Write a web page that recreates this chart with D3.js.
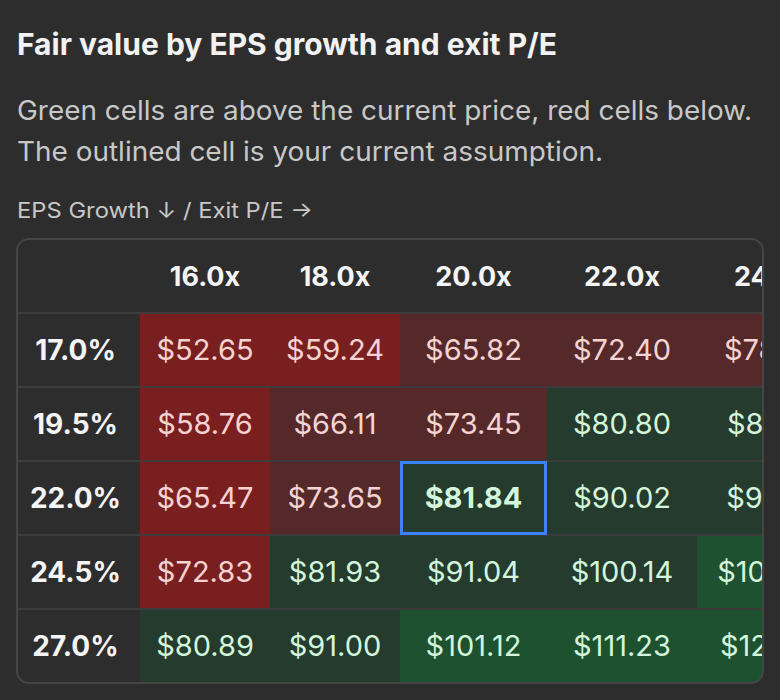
<!DOCTYPE html>
<meta charset="utf-8">
<script src="https://d3js.org/d3.v7.js"></script>
<style>
  body { margin: 0; background: #2d2d2d; }
  text { font-family: Inter, "Noto Sans", sans-serif; }
</style>
<svg id="chart" width="780" height="700"></svg>
<script>

// Data
const peLabels = ["16.0x", "18.0x", "20.0x", "22.0x", "24.0x"];
const growthLabels = ["17.0%", "19.5%", "22.0%", "24.5%", "27.0%"];
const values = [
  [52.65, 59.24, 65.82, 72.40, 78.98],
  [58.76, 66.11, 73.45, 80.80, 88.14],
  [65.47, 73.65, 81.84, 90.02, 98.21],
  [72.83, 81.93, 91.04, 100.14, 109.25],
  [80.89, 91.00, 101.12, 111.23, 121.34]
];
// tone: -2 strong red, -1 soft red, 1 soft green, 2 strong green
const tones = [
  [-2, -2, -1, -1, -1],
  [-2, -1, -1, 1, 1],
  [-2, -1, 1, 1, 1],
  [-2, 1, 1, 1, 2],
  [1, 1, 2, 2, 2]
];
const currentCell = [2, 2];

const svg = d3.select("#chart");

svg.append("text").attr("x", 17).attr("y", 55)
  .attr("fill", "#f2f2f2").attr("font-size", 30).attr("font-weight", 700)
  .attr("textLength", 540).attr("lengthAdjust", "spacingAndGlyphs")
  .text("Fair value by EPS growth and exit P/E");
svg.append("text").attr("x", 17).attr("y", 120)
  .attr("fill", "#c8c8c8").attr("font-size", 27)
  .attr("textLength", 735).attr("lengthAdjust", "spacingAndGlyphs")
  .text("Green cells are above the current price, red cells below.");
svg.append("text").attr("x", 17).attr("y", 161)
  .attr("fill", "#c8c8c8").attr("font-size", 27)
  .attr("textLength", 586).attr("lengthAdjust", "spacingAndGlyphs")
  .text("The outlined cell is your current assumption.");
svg.append("text").attr("x", 17).attr("y", 218)
  .attr("fill", "#c8c8c8").attr("font-size", 21)
  .attr("textLength", 296).attr("lengthAdjust", "spacingAndGlyphs")
  .text("EPS Growth \u2193 / Exit P/E \u2192");

// layout
const tableX = 17, tableY = 239, tableR = 763, tableB = 683;
const labelW = 123;
const colWidths = [130, 130, 147, 150, 150];
const colStart = [];
colWidths.reduce((acc, w, i) => { colStart[i] = acc; return acc + w; }, tableX + labelW);
const x = d3.scaleOrdinal().domain(peLabels).range(colStart);
const headerH = 74;
const y = d3.scaleBand().domain(growthLabels)
  .range([tableY + headerH, tableB]).paddingInner(0);

const fill = d3.scaleOrdinal().domain([-2, -1, 1, 2])
  .range(["#7a1f1f", "#552929", "#243b2d", "#1e5130"]);
const textFill = v => v < 0 ? "#f6d3d3" : "#d3f5dc";

svg.append("clipPath").attr("id", "tclip").append("rect")
  .attr("x", tableX).attr("y", tableY)
  .attr("width", tableR - tableX).attr("height", tableB - tableY).attr("rx", 12);

const g = svg.append("g").attr("clip-path", "url(#tclip)");
g.append("rect").attr("x", tableX).attr("y", tableY)
  .attr("width", tableR - tableX).attr("height", tableB - tableY).attr("fill", "#2d2d2d");

// header
g.selectAll(".colhead").data(peLabels).join("text")
  .attr("x", (d, i) => x(d) + colWidths[i] / 2).attr("y", tableY + headerH / 2 + 10)
  .attr("text-anchor", "middle").attr("fill", "#f4f4f4")
  .attr("font-size", 27).attr("font-weight", 700).text(d => d);

const rows = g.selectAll(".row").data(growthLabels).join("g")
  .attr("transform", d => `translate(0,${y(d)})`);

rows.append("text").attr("x", tableX + labelW / 2 - 3).attr("y", y.bandwidth() / 2 + 10)
  .attr("text-anchor", "middle").attr("fill", "#f4f4f4")
  .attr("font-size", 28).attr("font-weight", 700).text(d => d);

const cells = rows.selectAll(".cell")
  .data((d, r) => values[r].map((v, c) => ({ v, r, c, t: tones[r][c] })))
  .join("g");
cells.append("rect")
  .attr("x", d => x(peLabels[d.c])).attr("y", 0)
  .attr("width", d => colWidths[d.c]).attr("height", y.bandwidth())
  .attr("fill", d => fill(d.t));
cells.append("text")
  .attr("x", d => x(peLabels[d.c]) + colWidths[d.c] / 2)
  .attr("y", y.bandwidth() / 2 + 10)
  .attr("text-anchor", "middle")
  .attr("fill", d => textFill(d.t))
  .attr("font-size", 29)
  .attr("font-weight", d => d.r === currentCell[0] && d.c === currentCell[1] ? 700 : 400)
  .text(d => "$" + d.v.toFixed(2));

// grid lines
growthLabels.forEach(l => {
  g.append("line").attr("x1", tableX).attr("x2", tableR)
    .attr("y1", y(l)).attr("y2", y(l)).attr("stroke", "#3c3c3c").attr("stroke-width", 2);
});

// current assumption outline
const cr = currentCell[0], cc = currentCell[1];
g.append("rect")
  .attr("x", x(peLabels[cc]) + 1.5).attr("y", y(growthLabels[cr]) + 1.5)
  .attr("width", colWidths[cc] - 3).attr("height", y.bandwidth() - 3)
  .attr("fill", "none").attr("stroke", "#3b82f6").attr("stroke-width", 3);

svg.append("rect").attr("x", tableX).attr("y", tableY)
  .attr("width", tableR - tableX).attr("height", tableB - tableY).attr("rx", 12)
  .attr("fill", "none").attr("stroke", "#454545").attr("stroke-width", 2);

</script>
